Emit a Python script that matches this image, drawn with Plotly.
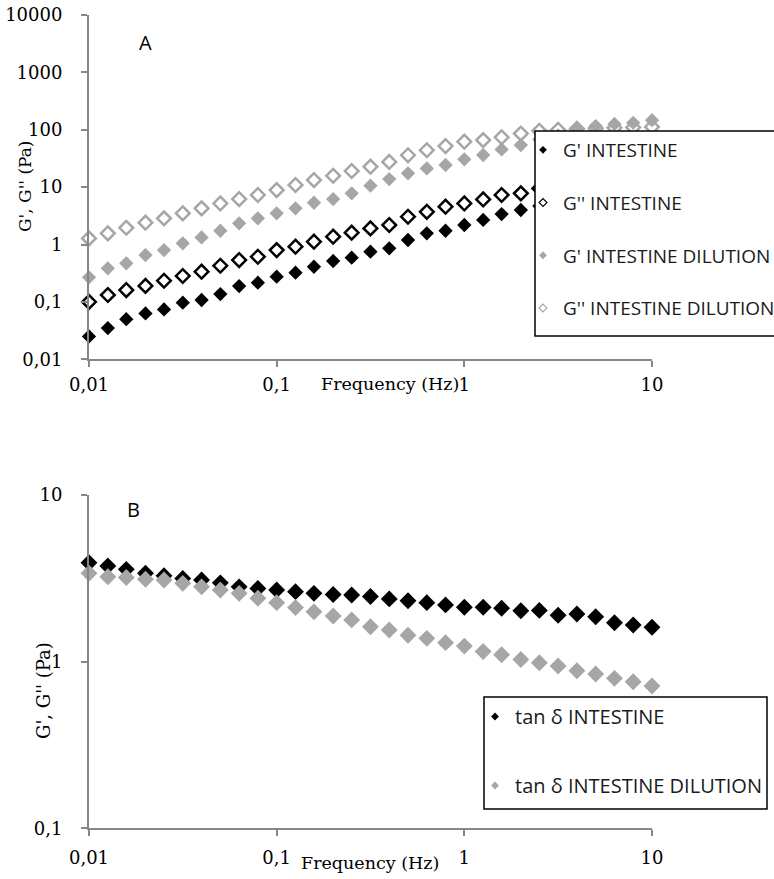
import plotly.graph_objects as go

W, H = 774, 879

# Oscillation frequency sweep (Hz)
freq = [0.01, 0.0126, 0.0158, 0.02, 0.0251, 0.0316, 0.0398, 0.0501, 0.0631, 0.0794,
        0.1, 0.126, 0.158, 0.2, 0.251, 0.316, 0.398, 0.501, 0.631, 0.794,
        1, 1.26, 1.58, 2, 2.51, 3.16, 3.98, 5.01, 6.31, 7.94, 10]

# Panel A: moduli (Pa)
g1_intestine = [0.025, 0.035, 0.050, 0.063, 0.074, 0.097, 0.108, 0.137, 0.189, 0.216,
                0.275, 0.323, 0.41, 0.516, 0.589, 0.75, 0.86, 1.20, 1.57, 1.74,
                2.19, 2.68, 3.4, 4.0, 4.7, 5.6, 6.8, 8.1, 9.9, 11.8, 14.0]
g2_intestine = [0.10, 0.132, 0.161, 0.19, 0.234, 0.283, 0.336, 0.427, 0.537, 0.613,
                0.80, 0.916, 1.12, 1.37, 1.61, 1.91, 2.19, 3.05, 3.72, 4.56,
                5.2, 6.1, 7.3, 7.8, 9.5, 10.6, 13.1, 15.1, 16.9, 19.6, 22.5]
g1_dilution = [0.268, 0.385, 0.47, 0.656, 0.80, 1.05, 1.33, 1.74, 2.34, 2.86,
               3.5, 4.27, 5.35, 6.2, 7.8, 10.6, 13.8, 17.4, 21.2, 24.3,
               30.5, 36.3, 45.5, 54, 68, 80, 98, 116, 126, 132, 147]
g2_dilution = [1.28, 1.57, 1.96, 2.4, 2.86, 3.5, 4.27, 5.2, 6.2, 7.3,
               8.9, 10.9, 13.3, 15.8, 19.1, 22.7, 27.5, 36, 44, 52,
               62, 66, 74, 86, 96, 100, 104, 106, 108, 110, 112]

# Panel B: loss tangent
tan_intestine = [3.92, 3.75, 3.58, 3.39, 3.28, 3.16, 3.09, 2.97, 2.81, 2.75,
                 2.69, 2.63, 2.57, 2.53, 2.51, 2.46, 2.38, 2.32, 2.26, 2.19,
                 2.12, 2.12, 2.09, 2.02, 2.03, 1.90, 1.93, 1.86, 1.71, 1.66, 1.61]
tan_dilution = [3.39, 3.23, 3.20, 3.12, 3.09, 2.95, 2.81, 2.69, 2.57, 2.40,
                2.26, 2.11, 1.99, 1.88, 1.78, 1.62, 1.55, 1.44, 1.38, 1.30,
                1.24, 1.15, 1.10, 1.03, 0.985, 0.941, 0.882, 0.843, 0.794, 0.758, 0.714]

x_ticks = [0.01, 0.1, 1, 10]
x_labels = ["0,01", "0,1", "1", "10"]
ya_ticks = [0.01, 0.1, 1, 10, 100, 1000, 10000]
ya_labels = ["0,01", "0,1", "1", "10", "100", "1000", "10000"]
yb_ticks = [0.1, 1, 10]
yb_labels = ["0,1", "1", "10"]

BLACK = "#000000"
GREY = "#a6a6a6"
AXIS = "#868686"
SERIF = "DejaVu Serif"
SANS = "Open Sans"
TICK_SIZE = 18


def px(xp):
    return xp / W


def py(yp):
    return 1 - yp / H


fig = go.Figure()

panel_a = [
    ("G' INTESTINE", g1_intestine, "diamond", BLACK),
    ("G'' INTESTINE", g2_intestine, "diamond-open", BLACK),
    ("G' INTESTINE DILUTION", g1_dilution, "diamond", GREY),
    ("G'' INTESTINE DILUTION", g2_dilution, "diamond-open", GREY),
]
for k, (name, vals, sym, col) in enumerate(panel_a):
    open_sym = sym.endswith("open")
    fig.add_trace(go.Scatter(
        x=freq, y=vals, mode="markers", name=name, showlegend=False,
        xaxis="x", yaxis="y", cliponaxis=False,
        marker=dict(symbol=sym, size=10.5 if open_sym else 11, color=col,
                    line=dict(width=2.5 if open_sym else 0, color=col)),
    ))
    # compact legend key
    fig.add_trace(go.Scatter(
        x=[None], y=[None], mode="markers", name=name, legend="legend",
        legendgroup=f"a{k}", xaxis="x", yaxis="y",
        marker=dict(symbol=sym, size=6, color=col,
                    line=dict(width=1.2 if open_sym else 0, color=col)),
    ))

panel_b = [
    ("tan δ INTESTINE", tan_intestine, BLACK),
    ("tan δ INTESTINE DILUTION", tan_dilution, GREY),
]
for k, (name, vals, col) in enumerate(panel_b):
    fig.add_trace(go.Scatter(
        x=freq, y=vals, mode="markers", name=name, showlegend=False,
        xaxis="x2", yaxis="y2", cliponaxis=False,
        marker=dict(symbol="diamond", size=13, color=col, line=dict(width=0)),
    ))
    fig.add_trace(go.Scatter(
        x=[None], y=[None], mode="markers", name=name, legend="legend2",
        legendgroup=f"b{k}", xaxis="x2", yaxis="y2",
        marker=dict(symbol="diamond", size=6, color=col, line=dict(width=0)),
    ))


def log_axis(**kw):
    base = dict(
        type="log", showline=True, linecolor=AXIS, linewidth=2,
        ticks="outside", ticklen=6, tickwidth=2, tickcolor=AXIS,
        showgrid=False, zeroline=False, mirror=False,
        tickfont=dict(family=SERIF, size=TICK_SIZE, color=BLACK),
    )
    base.update(kw)
    return base


def label(text, xp, yp, size, family=SERIF, angle=0):
    return dict(text=text, x=px(xp), y=py(yp), xref="paper", yref="paper",
                xanchor="center", yanchor="middle", textangle=angle,
                showarrow=False, font=dict(family=family, size=size, color=BLACK))


xdom = [px(89), px(652)]

fig.update_layout(
    width=W, height=H,
    margin=dict(l=0, r=0, t=0, b=0, autoexpand=False),
    paper_bgcolor="white", plot_bgcolor="white",
    xaxis=log_axis(domain=xdom, anchor="y", range=[-2, 1],
                   tickvals=x_ticks, ticktext=x_labels, ticklabelstandoff=2),
    yaxis=log_axis(domain=[py(359.3), py(15)], anchor="x", range=[-2, 4],
                   tickvals=ya_ticks, ticktext=ya_labels, ticklabelstandoff=15),
    xaxis2=log_axis(domain=xdom, anchor="y2", range=[-2, 1],
                    tickvals=x_ticks, ticktext=x_labels, ticklabelstandoff=6),
    yaxis2=log_axis(domain=[py(828.3), py(495)], anchor="x2", range=[-1, 1],
                    tickvals=yb_ticks, ticktext=yb_labels, ticklabelstandoff=15),
    legend=dict(x=px(523), y=py(131), xanchor="left", yanchor="top",
                bgcolor="rgba(0,0,0,0)", borderwidth=0,
                font=dict(family=SANS, size=19, color="#1a1a1a"),
                tracegroupgap=25, itemsizing="trace"),
    legend2=dict(x=px(475), y=py(697), xanchor="left", yanchor="top",
                 bgcolor="rgba(0,0,0,0)", borderwidth=0,
                 font=dict(family=SANS, size=20, color="#1a1a1a"),
                 tracegroupgap=40, itemsizing="trace"),
    shapes=[
        # legend frames, drawn over the markers
        dict(type="rect", xref="paper", yref="paper", layer="above",
             x0=px(535), x1=px(790), y0=py(336), y1=py(131),
             fillcolor="white", line=dict(color=BLACK, width=1.5)),
        dict(type="rect", xref="paper", yref="paper", layer="above",
             x0=px(484), x1=px(767), y0=py(809), y1=py(697),
             fillcolor="white", line=dict(color=BLACK, width=1.5)),
    ],
    annotations=[
        label("A", 145, 43, 20, family=SANS),
        label("B", 133, 509, 20, family=SANS),
        label("Frequency (Hz)", 390, 384, 17.5),
        label("Frequency (Hz)", 370, 863, 17.5),
        label("G', G'' (Pa)", 25, 186, 17, angle=-90),
        label("G', G'' (Pa)", 43, 691, 18, angle=-90),
    ],
)

fig.write_html("out.html")
